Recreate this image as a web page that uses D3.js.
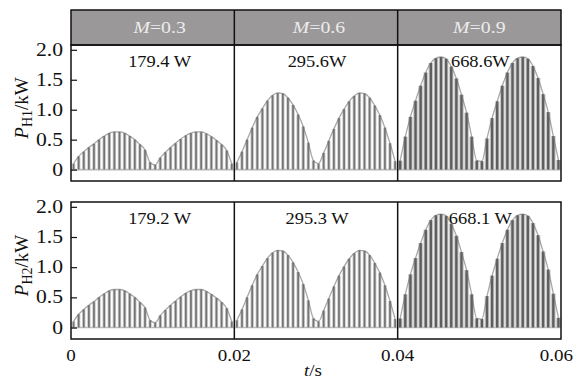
<!DOCTYPE html>
<html>
<head>
<meta charset="utf-8">
<script src="https://cdn.jsdelivr.net/npm/d3@7"></script>
<style>
	html, body {margin: 0; padding: 0; background: #fff;}
	svg {display: block;}
	text {font-family: "Liberation Serif", "DejaVu Serif", serif;}
</style>
</head>
<body>
<div id="chart"></div>
<script>
// modulation index of each column
const modIndex = ["0.3", "0.6", "0.9"];

// pulse peak power (kW), 32 switching pulses per 0.02 s column
const pulsesM03 = [
	0.10, 0.22, 0.30, 0.37, 0.43, 0.50, 0.56, 0.61, 0.63, 0.63, 0.61, 0.56, 0.50, 0.42, 0.33, 0.12,
	0.08, 0.20, 0.29, 0.37, 0.44, 0.51, 0.57, 0.61, 0.63, 0.63, 0.60, 0.55, 0.49, 0.42, 0.32, 0.10,
];
const pulsesM06 = [
	0.12, 0.30, 0.50, 0.70, 0.88, 1.02, 1.15, 1.24, 1.28, 1.27, 1.20, 1.08, 0.92, 0.72, 0.45, 0.15,
	0.10, 0.28, 0.48, 0.68, 0.86, 1.01, 1.14, 1.23, 1.28, 1.27, 1.20, 1.07, 0.91, 0.70, 0.44, 0.14,
];
const pulsesM09 = [
	0.15, 0.55, 0.88, 1.15, 1.40, 1.62, 1.78, 1.86, 1.88, 1.85, 1.72, 1.52, 1.25, 0.95, 0.55, 0.15,
	0.14, 0.52, 0.86, 1.14, 1.40, 1.62, 1.78, 1.86, 1.88, 1.85, 1.73, 1.53, 1.26, 0.96, 0.56, 0.16,
];
// both legs (H1, H2) show the same pulse pattern
const pulseSets = [pulsesM03, pulsesM06, pulsesM09];

// average power labels
const powerH1 = ["179.4 W", "295.6W", "668.6W"];
const powerH2 = ["179.2 W", "295.3 W", "668.1 W"];

const yTicks = [0, 0.5, 1.0, 1.5, 2.0];
const yTickLabels = ["0", "0.5", "1.0", "1.5", "2.0"];
const xTicks = [0, 0.02, 0.04, 0.06];
const xTickLabels = ["0", "0.02", "0.04", "0.06"];

const width = 575;
const height = 379;
const PLOT = {left: 71, right: 561};
const ROWS = [
	{top: 45, bottom: 181, sub: "H1", power: powerH1},
	{top: 202, bottom: 339, sub: "H2", power: powerH2},
];
const HEADER = {top: 10, bottom: 45};
const COL_SPAN = 0.02;
const PULSES_PER_COL = 32;
const STRETCH = 1.2; // the original lettering is a bit wide

const svg = d3.select("#chart")
	.append("svg")
	.attr("width", width)
	.attr("height", height)
	.attr("viewBox", `0 0 ${width} ${height}`);

const x = d3.scaleLinear()
	.domain([0, 0.06])
	.range([PLOT.left, PLOT.right]);

function wideText(parent, px, py, size, anchor, sx = STRETCH) {
	return parent.append("text")
		.attr("transform", `translate(${px},${py}) scale(${sx},1)`)
		.attr("text-anchor", anchor)
		.attr("fill", "#111")
		.attr("font-size", size + "px");
}

// header band
svg.append("rect")
	.attr("x", PLOT.left)
	.attr("y", HEADER.top)
	.attr("width", PLOT.right - PLOT.left)
	.attr("height", HEADER.bottom - HEADER.top)
	.attr("fill", "#9b9899");

modIndex.forEach((m, c) => {
	const cx = (x(c * COL_SPAN) + x((c + 1) * COL_SPAN)) / 2 + (c === 0 ? 7 : c === 1 ? 3 : 0);
	const t = wideText(svg, cx, 33, 16.5, "middle").attr("fill", "#ececec");
	t.append("tspan").attr("font-style", "italic").text("M");
	t.append("tspan").text("=" + m);
});

svg.append("rect")
	.attr("x", PLOT.left)
	.attr("y", HEADER.top)
	.attr("width", PLOT.right - PLOT.left)
	.attr("height", HEADER.bottom - HEADER.top)
	.attr("fill", "none")
	.attr("stroke", "#111")
	.attr("stroke-width", 1.5);

ROWS.forEach((row, r) => {
	const y = d3.scaleLinear()
		.domain([-0.19, 2.08])
		.range([row.bottom, row.top]);

	const g = svg.append("g");

	// zero level trace
	g.append("line")
		.attr("x1", PLOT.left)
		.attr("x2", PLOT.right)
		.attr("y1", y(0))
		.attr("y2", y(0))
		.attr("stroke", "#b8b8b8")
		.attr("stroke-width", 1.6);

	pulseSets.forEach((vals, c) => {
		const pts = vals.map((v, i) => ({t: c * COL_SPAN + (i + 0.5) * COL_SPAN / PULSES_PER_COL, v}));
		const darkW = c === 2 ? 2.4 : 1.7;
		const lightW = c === 2 ? 4.6 : 3.4;

		// light pulse body
		g.selectAll(null)
			.data(pts)
			.join("rect")
			.attr("x", d => x(d.t) - lightW / 2)
			.attr("y", d => y(d.v))
			.attr("width", lightW)
			.attr("height", d => y(0) - y(d.v))
			.attr("fill", c === 2 ? "#c8c8c8" : "#cacaca");

		// dark pulse core
		g.selectAll(null)
			.data(pts)
			.join("rect")
			.attr("x", d => x(d.t) - darkW / 2)
			.attr("y", d => y(d.v))
			.attr("width", darkW)
			.attr("height", d => y(0) - y(d.v))
			.attr("fill", c === 2 ? "#5e5e5e" : "#747474");

		// envelope
		g.append("path")
			.datum(pts)
			.attr("fill", "none")
			.attr("stroke", "#6e6e6e")
			.attr("stroke-width", 1.3)
			.attr("opacity", 0.6)
			.attr("d", d3.line().x(d => x(d.t)).y(d => y(d.v)).curve(d3.curveMonotoneX));

		// average power label
		const cx = (x(c * COL_SPAN) + x((c + 1) * COL_SPAN)) / 2 + (c === 0 ? 7 : 1);
		wideText(g, cx, row.top + 22, 16, "middle", 1.15).text(row.power[c]);
	});

	// y ticks inside the frame
	g.append("g")
		.attr("transform", `translate(${PLOT.left},0)`)
		.call(d3.axisRight(y).tickValues(yTicks).tickSize(6).tickFormat(""))
		.call(a => a.select(".domain").remove())
		.call(a => a.selectAll("line").attr("stroke", "#111").attr("stroke-width", 1.2));

	yTicks.forEach((v, i) => {
		wideText(g, 63, y(v) + 6, 18, "end").text(yTickLabels[i]);
	});

	// column dividers
	[COL_SPAN, 2 * COL_SPAN].forEach(t => {
		g.append("line")
			.attr("x1", x(t))
			.attr("x2", x(t))
			.attr("y1", r === 0 ? HEADER.top : row.top)
			.attr("y2", row.bottom)
			.attr("stroke", "#111")
			.attr("stroke-width", 1.5);
	});

	// frame
	g.append("rect")
		.attr("x", PLOT.left)
		.attr("y", row.top)
		.attr("width", PLOT.right - PLOT.left)
		.attr("height", row.bottom - row.top)
		.attr("fill", "none")
		.attr("stroke", "#111")
		.attr("stroke-width", 1.5);

	// y label
	const cy = (row.top + row.bottom) / 2 - 5;
	const lab = svg.append("text")
		.attr("transform", `translate(28,${cy}) rotate(-90)`)
		.attr("text-anchor", "middle")
		.attr("fill", "#111")
		.attr("font-size", "19px");
	lab.append("tspan").attr("font-style", "italic").text("P");
	lab.append("tspan").attr("font-size", "14px").attr("dy", 4).text(row.sub);
	lab.append("tspan").attr("dy", -4).text("/kW");
});

// x axis labels
xTicks.forEach((v, i) => {
	const last = i === xTicks.length - 1;
	wideText(svg, last ? 573 : x(v), 361, 17, last ? "end" : "middle", 1.12).text(xTickLabels[i]);
});

const xl = wideText(svg, 313, 376, 17, "middle", 1.12);
xl.append("tspan").attr("font-style", "italic").text("t");
xl.append("tspan").text("/s");
</script>
</body>
</html>
